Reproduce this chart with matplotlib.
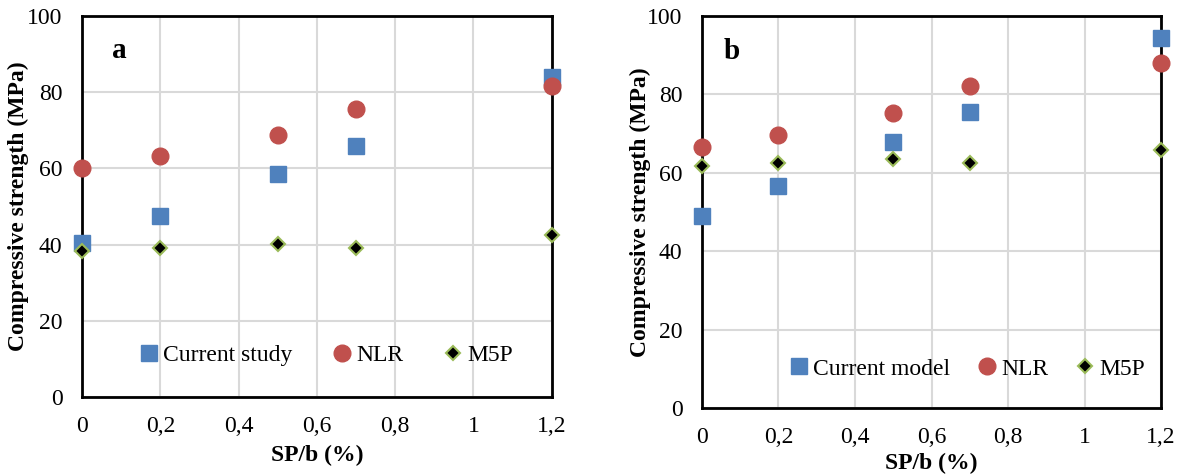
import numpy as np
import matplotlib
matplotlib.use('Agg')
import matplotlib.pyplot as plt
from matplotlib.ticker import FuncFormatter

plt.rcParams['font.family'] = ['Liberation Serif', 'DejaVu Serif']

# data
sp_b = [0, 0.2, 0.5, 0.7, 1.2]
# panel a
current_study = [40.4, 47.6, 58.6, 65.9, 84.0]
nlr_a = [60.2, 63.3, 68.8, 75.7, 81.6]
m5p_a = [38.4, 39.1, 40.2, 39.1, 42.5]
# panel b
current_model = [49.0, 56.6, 67.9, 75.5, 94.4]
nlr_b = [66.6, 69.6, 75.2, 82.1, 88.0]
m5p_b = [61.7, 62.5, 63.5, 62.5, 65.8]

xticks = [0, 0.2, 0.4, 0.6, 0.8, 1, 1.2]
yticks = [0, 20, 40, 60, 80, 100]

blue = '#4F81BD'
red = '#C0504D'
green = '#9BBB59'

fig = plt.figure(figsize=(11.84, 4.74), dpi=100)
ax1 = fig.add_axes([0.0693, 0.1624, 0.3967, 0.8036])
ax2 = fig.add_axes([0.5929, 0.1392, 0.3877, 0.8268])

comma = FuncFormatter(lambda v, p: ('%g' % v).replace('.', ','))


def draw(ax, cur, nlr, m5p, cur_name, tag, tag_x, leg_x, leg_y, colsp, ylpad, xlpad):
    ax.plot(sp_b, cur, 's', color=blue, markersize=11, label=cur_name, zorder=3, clip_on=False)
    ax.plot(sp_b, nlr, 'o', color=red, markersize=12, label='NLR', zorder=3, clip_on=False)
    ax.plot(sp_b, m5p, 'D', color='black', markeredgecolor=green, markeredgewidth=1.5,
            markersize=7, label='M5P', zorder=4, clip_on=False)
    ax.set_xlim(0, 1.2)
    ax.set_ylim(0, 100)
    ax.set_xticks(xticks)
    ax.set_yticks(yticks)
    ax.xaxis.set_major_formatter(comma)
    ax.grid(True, color='#D9D9D9', linewidth=1.5)
    ax.set_axisbelow(True)
    ax.tick_params(length=0, labelsize=17)
    ax.tick_params(axis='x', pad=14)
    ax.tick_params(axis='y', pad=14)
    for s in ax.spines.values():
        s.set_linewidth(2)
        s.set_color('black')
    ax.set_xlabel('SP/b (%)', fontsize=17, fontweight='bold', labelpad=xlpad)
    ax.set_ylabel('Compressive strength (MPa)', fontsize=17, fontweight='bold', labelpad=ylpad)
    ax.text(tag_x, 91, tag, fontsize=21, fontweight='bold', va='center', ha='center')
    ax.legend(loc='center', bbox_to_anchor=(leg_x, leg_y), ncol=3, frameon=False,
              fontsize=17, handletextpad=0.1, columnspacing=colsp, handlelength=1.0)


draw(ax1, current_study, nlr_a, m5p_a, 'Current study', 'a', 0.094, 0.517, 0.11, 1.6, -1, 5)
draw(ax2, current_model, nlr_b, m5p_b, 'Current model', 'b', 0.078, 0.575, 0.1, 1.05, -3, 3)

fig.savefig('out.png', dpi=100)
